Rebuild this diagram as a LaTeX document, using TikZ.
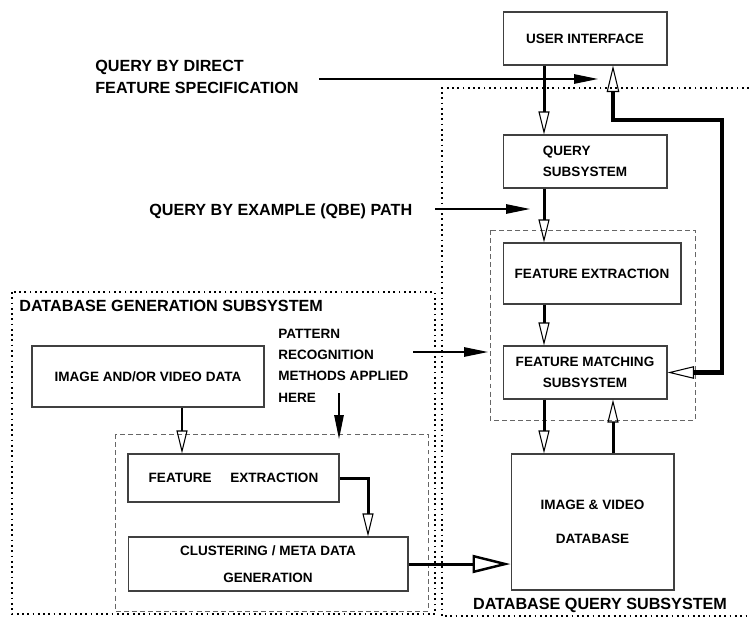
\documentclass[tikz,border=0pt]{standalone}
\usepackage{fontspec}
\setmainfont{Liberation Sans}
\usepackage{tikz}
\usetikzlibrary{arrows.meta,positioning,calc}

\begin{document}
\begin{tikzpicture}[x=0.02cm,y=-0.02cm,
  box/.style={draw=black!75,line width=0.6pt,align=center,inner sep=0pt,
    font=\fontsize{7.7}{12}\selectfont\bfseries},
  lbl/.style={inner sep=0pt,align=left,font=\fontsize{9.2}{12.5}\selectfont\bfseries},
  ptxt/.style={inner sep=0pt,align=left,font=\fontsize{7.7}{12.2}\selectfont\bfseries},
  grp/.style={draw=black!60,line width=0.5pt,dash pattern=on 2.8pt off 1.8pt},
  sub/.style={line width=1.1pt,dash pattern=on 1pt off 2pt},
  thin/.style={line width=0.7pt,-{Triangle[length=0.48cm,width=0.19cm]}},
  flow/.style={line width=1.7pt,-{Triangle[open,length=0.46cm,width=0.22cm,line width=0.6pt]}},
  back/.style={line width=2.3pt,
    {Triangle[open,length=0.53cm,width=0.25cm,line width=0.6pt]}-{Triangle[open,length=0.53cm,width=0.25cm,line width=0.6pt]}},
  big/.style={line width=1.7pt,-{Triangle[open,length=0.76cm,width=0.36cm,line width=1.4pt]}}]
  \useasboundingbox (0,0) rectangle (749,618);
  % サブシステムの枠
  \draw[sub] (12,292) rectangle (435,614); % 生成サブシステム
  \draw[sub] (749,88) -- (442,88) -- (442,616) -- (749,616); % 検索サブシステム
  \draw[grp] (490,230) rectangle (695,420); % 右の特徴処理
  \draw[grp] (115,434) rectangle (428,611); % 左の特徴処理
  \node[lbl,anchor=west] (gentitle) at (19,306) {DATABASE GENERATION SUBSYSTEM};
  \node[lbl] (qrytitle) at (600,605) {DATABASE QUERY SUBSYSTEM};
  % 右側のブロック
  \node[box,minimum width=3.28cm,minimum height=1.06cm] (ui) at (585,38.5) {USER INTERFACE};
  \node[box,minimum width=3.28cm,minimum height=1.06cm,align=left] (qry) at (585,161.5) {QUERY\\SUBSYSTEM};
  \node[box,minimum width=3.56cm,minimum height=1.22cm] (fext) at (592,273.5) {FEATURE EXTRACTION};
  \node[box,minimum width=3.28cm,minimum height=1.06cm] (fmat) at (585,372.5) {FEATURE MATCHING\\SUBSYSTEM};
  \node[box,minimum width=3.26cm,minimum height=2.72cm] (db) at (592.5,522) {IMAGE \& VIDEO\\[7.5pt]DATABASE};
  % 左側のブロック
  \node[box,minimum width=4.64cm,minimum height=1.22cm] (img) at (148,376.5) {IMAGE AND/OR VIDEO DATA};
  \node[box,minimum width=4.22cm,minimum height=0.96cm] (gext) at (233.5,478) {FEATURE\hspace{0.3cm} EXTRACTION};
  \node[box,minimum width=5.6cm,minimum height=1.08cm] (clus) at (268,564) {CLUSTERING / META DATA\\[3pt]GENERATION};
  % 入力の説明
  \node[lbl,anchor=west] (direct) at (95,77) {QUERY BY DIRECT\\FEATURE SPECIFICATION};
  \node[lbl,anchor=west] (qbe) at (149,211) {QUERY BY EXAMPLE (QBE) PATH};
  \node[ptxt,anchor=west] (patt) at (278,365.5) {PATTERN\\RECOGNITION\\METHODS APPLIED\\HERE};
  % 矢印の列
  \coordinate (colA) at (544,0);
  \coordinate (colB) at (613,0);
  \coordinate (colC) at (182,0);
  \coordinate (colD) at (368,0);
  \coordinate (fbk) at (722,120);
  \coordinate (d0) at (319,79);
  \coordinate (d1) at (598,79);
  \coordinate (q0) at (435,209);
  \coordinate (q1) at (530,209);
  \coordinate (p0) at (413,352);
  \coordinate (p1) at (488,352);
  \coordinate (h0) at (339,393);
  \coordinate (h1) at (339,439);
  \draw[thin] (d0) -- (d1); % 直接指定
  \draw[thin] (q0) -- (q1); % QBE
  \draw[thin] (p0) -- (p1); % パターン認識（右）
  \draw[thin] (h0) -- (h1); % パターン認識（下）
  \draw[flow] (ui.south -| colA) -- (qry.north -| colA);
  \draw[flow] (qry.south -| colA) -- (fext.north -| colA);
  \draw[flow] (fext.south -| colA) -- (fmat.north -| colA);
  \draw[flow] (fmat.south -| colA) -- (db.north -| colA);
  \draw[flow] (db.north -| colB) -- (fmat.south -| colB);
  \draw[back] (fmat.east) -| (fbk) -| (ui.south -| colB); % フィードバック
  \draw[flow] (img.south -| colC) -- (gext.north -| colC);
  \draw[flow] (gext.east) -| (clus.north -| colD);
  \draw[big] (clus.east) -- (clus.east -| db.west); % データベースへ
\end{tikzpicture}
\end{document}
